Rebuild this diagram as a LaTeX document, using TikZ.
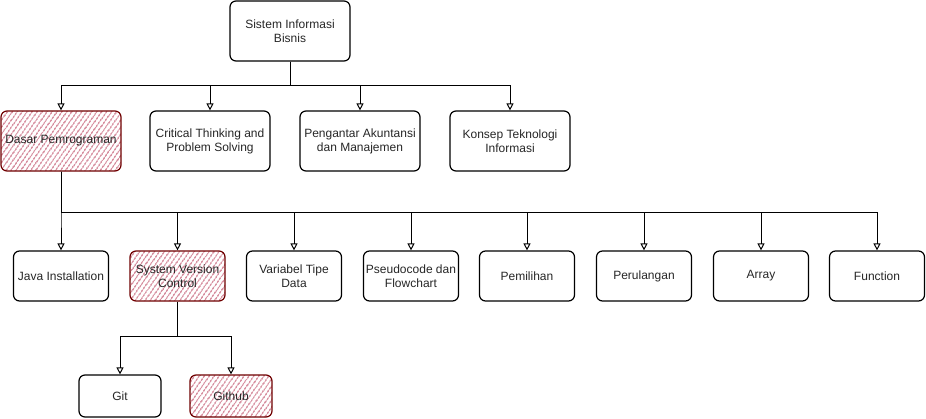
\documentclass[tikz,border=0pt]{standalone}
\usepackage{fontspec}
\setmainfont{Liberation Sans}
\usepackage{tikz}
\usetikzlibrary{
  positioning,
  patterns.meta,
  arrows.meta
}
\definecolor{crimsonfill}{HTML}{A20025}
\definecolor{crimsonline}{HTML}{6F0000}
\tikzset{>={Triangle[open, length=7pt, width=7pt]}}
\tikzset{
  topic/.style={draw, line width=1.2pt, rounded corners=6pt, minimum width=120pt,
    minimum height=60pt, align=center, inner sep=1pt,
    font=\fontsize{12}{14}\selectfont, text=black!85},
  subtopic/.style={topic, minimum width=95pt, minimum height=50pt},
  tool/.style={topic, minimum width=82pt, minimum height=42pt},
  focus/.style={draw=crimsonline, pattern color=crimsonfill!65,
    pattern={Lines[angle=55, distance=4pt, line width=1.2pt]}},
  link/.style={->, line width=1pt}
}

\begin{document}
\begin{tikzpicture}[x=1pt, y=-1pt]
  \useasboundingbox (0,0) rectangle (926,418);

  \node[topic] (sib) at (290,31) {Sistem Informasi\\Bisnis};

  % courses
  \node[topic, focus] (dasar) at (61,141) {Dasar Pemrograman};
  \node[topic] (critical) at (210,141) {Critical Thinking and\\Problem Solving};
  \node[topic] (pengantar) at (360,141) {Pengantar Akuntansi\\dan Manajemen};
  \node[topic] (konsep) at (510,141) {Konsep Teknologi\\Informasi};

  % topics of Dasar Pemrograman
  \node[subtopic, focus] (svc) at (177.5,276) {System Version\\Control};
  \foreach \name/\x/\label in {java/61/Java Installation,
    variabel/294/Variabel Tipe\\Data, pseudocode/411/Pseudocode dan\\Flowchart,
    pemilihan/527/Pemilihan, perulangan/644/Perulangan,
    array/761/Array, function/877/Function}
  {
    \node[subtopic] (\name) at (\x,276) {\label};
  }

  \node[tool] (git) at (120,396) {Git};
  \node[tool, focus] (github) at (231,396) {Github};

  \coordinate (busA) at (290,85);
  \coordinate (busB) at (61,212);
  \coordinate (busC) at (177.5,336);

  \foreach \n in {dasar, critical, pengantar, konsep}
  {
    \draw[link] (sib.south) -- (busA) -| (\n.north);
  }
  \foreach \n in {java, svc, variabel, pseudocode, pemilihan, perulangan, array, function}
  {
    \draw[link] (dasar.south) -- (busB) -| (\n.north);
  }
  \foreach \n in {git, github}
  {
    \draw[link] (svc.south) -- (busC) -| (\n.north);
  }
\end{tikzpicture}
\end{document}
